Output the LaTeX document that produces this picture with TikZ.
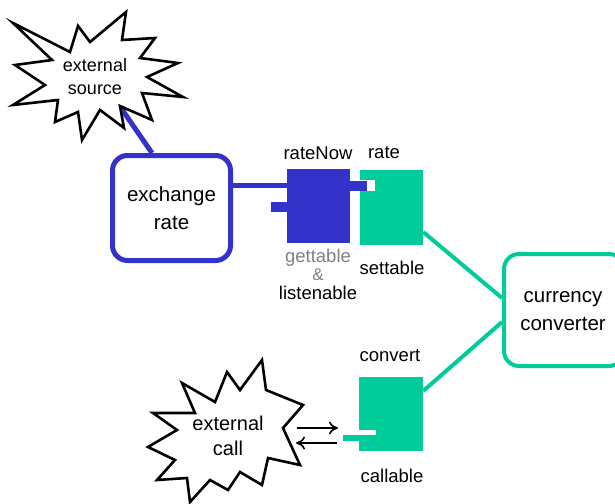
\documentclass[tikz,border=0pt]{standalone}
\usepackage{fontspec}
\setmainfont{Liberation Sans}
\usetikzlibrary{arrows.meta}
\definecolor{portblue}{HTML}{3333CC}
\definecolor{portgreen}{HTML}{00CC99}
\definecolor{labelgray}{HTML}{808080}
\begin{document}
\begin{tikzpicture}[x=1pt,y=-1pt,
  boxtext/.style={font=\fontsize{20.5}{28}\selectfont, align=center},
  lbl/.style={font=\fontsize{18.5}{18}\selectfont, inner sep=0pt},
  startext/.style={font=\fontsize{18}{23}\selectfont, align=center},
  burst/.style={draw=black, line width=2.6pt, line join=miter, fill=white},
  bluebox/.style={draw=portblue, line width=5pt, rounded corners=15pt, inner sep=0pt},
  greenbox/.style={draw=portgreen, line width=4pt, rounded corners=15pt, inner sep=0pt},
  blueblock/.style={fill=portblue, draw=none, inner sep=0pt},
  greenblock/.style={fill=portgreen, draw=none, inner sep=0pt},
  hole/.style={fill=white, draw=none, inner sep=0pt},
  blueline/.style={draw=portblue, line width=5pt},
  greenline/.style={draw=portgreen, line width=4pt},
  callarrow/.style={draw=black, line width=1.6pt, -{To[length=9pt,width=13pt]}}
]
\clip (0,0) rectangle (615,503);
\fill[white] (0,0) rectangle (615,503);

% connector from the external source to the exchange rate box
\coordinate (srcend) at (121,108);
\coordinate (exchtop) at (152,153);
\draw[blueline] (srcend) -- (exchtop);

% external source burst
\draw[burst] (13,23) -- (70,52) -- (78,26) -- (90,42) -- (126,12) -- (122,40)
  -- (155,38) -- (140,58) -- (178,63) -- (147,77) -- (183,97) -- (142,93)
  -- (152,120) -- (120,106) -- (124,128) -- (100,110) -- (82,140) -- (78,112)
  -- (55,122) -- (58,100) -- (13,105) -- (45,85) -- (15,65) -- (52,60) -- cycle;
\node[startext] (src) at (95,77) {external\\source};

% exchange rate box
\node[bluebox, minimum width=118pt, minimum height=105pt] (exch) at (171.5,208) {};
\node[boxtext] (exchlbl) at (exch.center) {exchange\\rate};

% rateNow port (gettable & listenable)
\node[blueblock, minimum width=63pt, minimum height=74pt] (rn) at (318.5,206) {};
\node[blueblock, minimum width=16pt, minimum height=10pt] (rntab) at (279,207) {};
\draw[blueline] (exch.east |- 0,185) -- (rn.west |- 0,185);

% rate port (settable)
\node[greenblock, minimum width=63pt, minimum height=75pt] (rt) at (391.5,207.5) {};
\node[hole, minimum width=15pt, minimum height=11pt] (rthole) at (367.5,185.5) {};
\node[blueblock, minimum width=17pt, minimum height=10pt] (rnplug) at (358.5,186) {};

% convert port (callable)
\node[greenblock, minimum width=64pt, minimum height=74pt] (cv) at (391,414) {};
\node[hole, minimum width=17pt, minimum height=5pt] (cvhole) at (367.5,432.5) {};
\node[greenblock, minimum width=33pt, minimum height=6pt] (cvplug) at (359.5,438) {};

% currency converter box
\node[greenbox, minimum width=120pt, minimum height=112pt] (cc) at (564,310) {};
\node[boxtext] (cclbl) at (563,311) {currency\\converter};

% green connectors
\draw[greenline] (rt.east |- 0,232) -- (cc.west |- 0,298);
\draw[greenline] (cc.west |- 0,322) -- (cv.east |- 0,391);

% external call burst
\draw[burst] (262,360) -- (266,390) -- (303,405) -- (283,428) -- (300,465)
  -- (268,458) -- (262,485) -- (240,472) -- (228,490) -- (210,480) -- (190,502)
  -- (187,478) -- (157,480) -- (175,460) -- (148,447) -- (177,430) -- (153,413)
  -- (195,413) -- (182,383) -- (215,402) -- (227,372) -- (240,390) -- cycle;
\node[startext, font=\fontsize{20}{25}\selectfont] (call) at (228,436) {external\\call};

% call arrows between the burst and the convert port
\coordinate (callout) at (297,428);
\coordinate (callin) at (338,428);
\coordinate (retout) at (337,443);
\coordinate (retin) at (296,443);
\draw[callarrow] (callout) -- (callin);
\draw[callarrow] (retout) -- (retin);

% port labels
\node[lbl] (rnlbl) at (318,153) {rateNow};
\node[lbl] (rtlbl) at (384,153) {rate};
\node[lbl, text=labelgray] (getlbl) at (318,258) {gettable};
\node[lbl, text=labelgray, font=\fontsize{17}{17}\selectfont] (amplbl) at (318,274.5) {\&};
\node[lbl] (lstlbl) at (318,293) {listenable};
\node[lbl] (setlbl) at (392,268) {settable};
\node[lbl] (cvlbl) at (390,356) {convert};
\node[lbl] (calllbl) at (392,476) {callable};
\end{tikzpicture}
\end{document}
